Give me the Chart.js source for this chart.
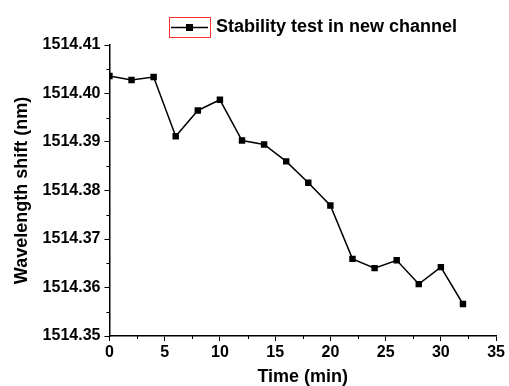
<!DOCTYPE html>
<html>
<head>
<meta charset="utf-8">
<script src="https://cdn.jsdelivr.net/npm/chart.js@4/dist/chart.umd.min.js"></script>
<style>
  html, body { margin: 0; padding: 0; background: #fff; }
  #chart { display: block; }
</style>
</head>
<body>
<canvas id="chart" width="509" height="386"></canvas>
<script>
// values
const timeMin = [0, 2, 4, 6, 8, 10, 12, 14, 16, 18, 20, 22, 24, 26, 28, 30, 32];
const wavelength = [1514.4036, 1514.4028, 1514.4034, 1514.3912, 1514.3965, 1514.3987,
    1514.3903, 1514.3895, 1514.3860, 1514.3816, 1514.3769, 1514.3659, 1514.3640,
    1514.3656, 1514.3607, 1514.3642, 1514.3566];
const seriesLabel = 'Stability test in new channel';
const xTitle = 'Time (min)';
const yTitle = 'Wavelength shift (nm)';

const font = 'Liberation Sans, Arial, sans-serif';

// minor ticks + legend drawn by hand
const extras = {
    id: 'extras',
    afterDraw(chart) {
        const ctx = chart.ctx;
        const xs = chart.scales.x, ys = chart.scales.y;
        const area = chart.chartArea;
        ctx.save();
        ctx.strokeStyle = '#000';
        ctx.lineWidth = 1;
        for (let v = 2.5; v < 35; v += 5) {
            const px = Math.round(xs.getPixelForValue(v)) + 0.5;
            ctx.beginPath();
            ctx.moveTo(px, area.bottom);
            ctx.lineTo(px, area.bottom + 3);
            ctx.stroke();
        }
        for (let v = 1514.355; v < 1514.41; v += 0.01) {
            const py = Math.round(ys.getPixelForValue(v)) + 0.5;
            ctx.beginPath();
            ctx.moveTo(area.left - 3, py);
            ctx.lineTo(area.left, py);
            ctx.stroke();
        }

        // legend
        const bx = 169, by = 17, bw = 41, bh = 20;
        ctx.strokeStyle = '#ff3030';
        ctx.strokeRect(bx + 0.5, by + 0.5, bw, bh);
        ctx.strokeStyle = '#000';
        ctx.lineWidth = 1.5;
        ctx.beginPath();
        ctx.moveTo(bx + 2, by + 10.5);
        ctx.lineTo(bx + 39, by + 10.5);
        ctx.stroke();
        ctx.fillStyle = '#000';
        ctx.fillRect(bx + 17, by + 7, 7, 7);
        ctx.font = 'bold 18px ' + font;
        ctx.textBaseline = 'middle';
        ctx.fillText(seriesLabel, 216, by + 10);
        ctx.restore();
    }
};

new Chart(document.getElementById('chart'), {
    type: 'line',
    data: {
        datasets: [{
            label: seriesLabel,
            data: timeMin.map((t, i) => ({ x: t, y: wavelength[i] })),
            borderColor: '#000',
            backgroundColor: '#000',
            borderWidth: 1.5,
            pointStyle: 'rect',
            pointRadius: 3.5,
            tension: 0
        }]
    },
    options: {
        responsive: false,
        animation: false,
        layout: { padding: { top: 45, right: 0, bottom: 0, left: 11 } },
        plugins: {
            legend: { display: false },
            tooltip: { enabled: false }
        },
        scales: {
            x: {
                type: 'linear',
                min: 0,
                max: 35,
                border: { display: true, color: '#000', width: 1.5 },
                grid: { drawOnChartArea: false, drawTicks: true, tickLength: 5, color: '#000' },
                ticks: {
                    stepSize: 5,
                    color: '#000',
                    padding: 4,
                    font: { family: font, size: 16, weight: 'bold', lineHeight: 1 }
                },
                title: {
                    display: true,
                    text: xTitle,
                    color: '#000',
                    padding: { top: 3, bottom: 0 },
                    font: { family: font, size: 18, weight: 'bold', lineHeight: 1 }
                }
            },
            y: {
                min: 1514.35,
                max: 1514.41,
                border: { display: true, color: '#000', width: 1.5 },
                grid: { drawOnChartArea: false, drawTicks: true, tickLength: 5, color: '#000' },
                ticks: {
                    stepSize: 0.01,
                    color: '#000',
                    padding: 4,
                    font: { family: font, size: 16, weight: 'bold' },
                    callback: v => v.toFixed(2)
                },
                title: {
                    display: true,
                    text: yTitle,
                    color: '#000',
                    padding: { top: 0, bottom: 6 },
                    font: { family: font, size: 18, weight: 'bold' }
                }
            }
        }
    },
    plugins: [extras]
});
</script>
</body>
</html>
